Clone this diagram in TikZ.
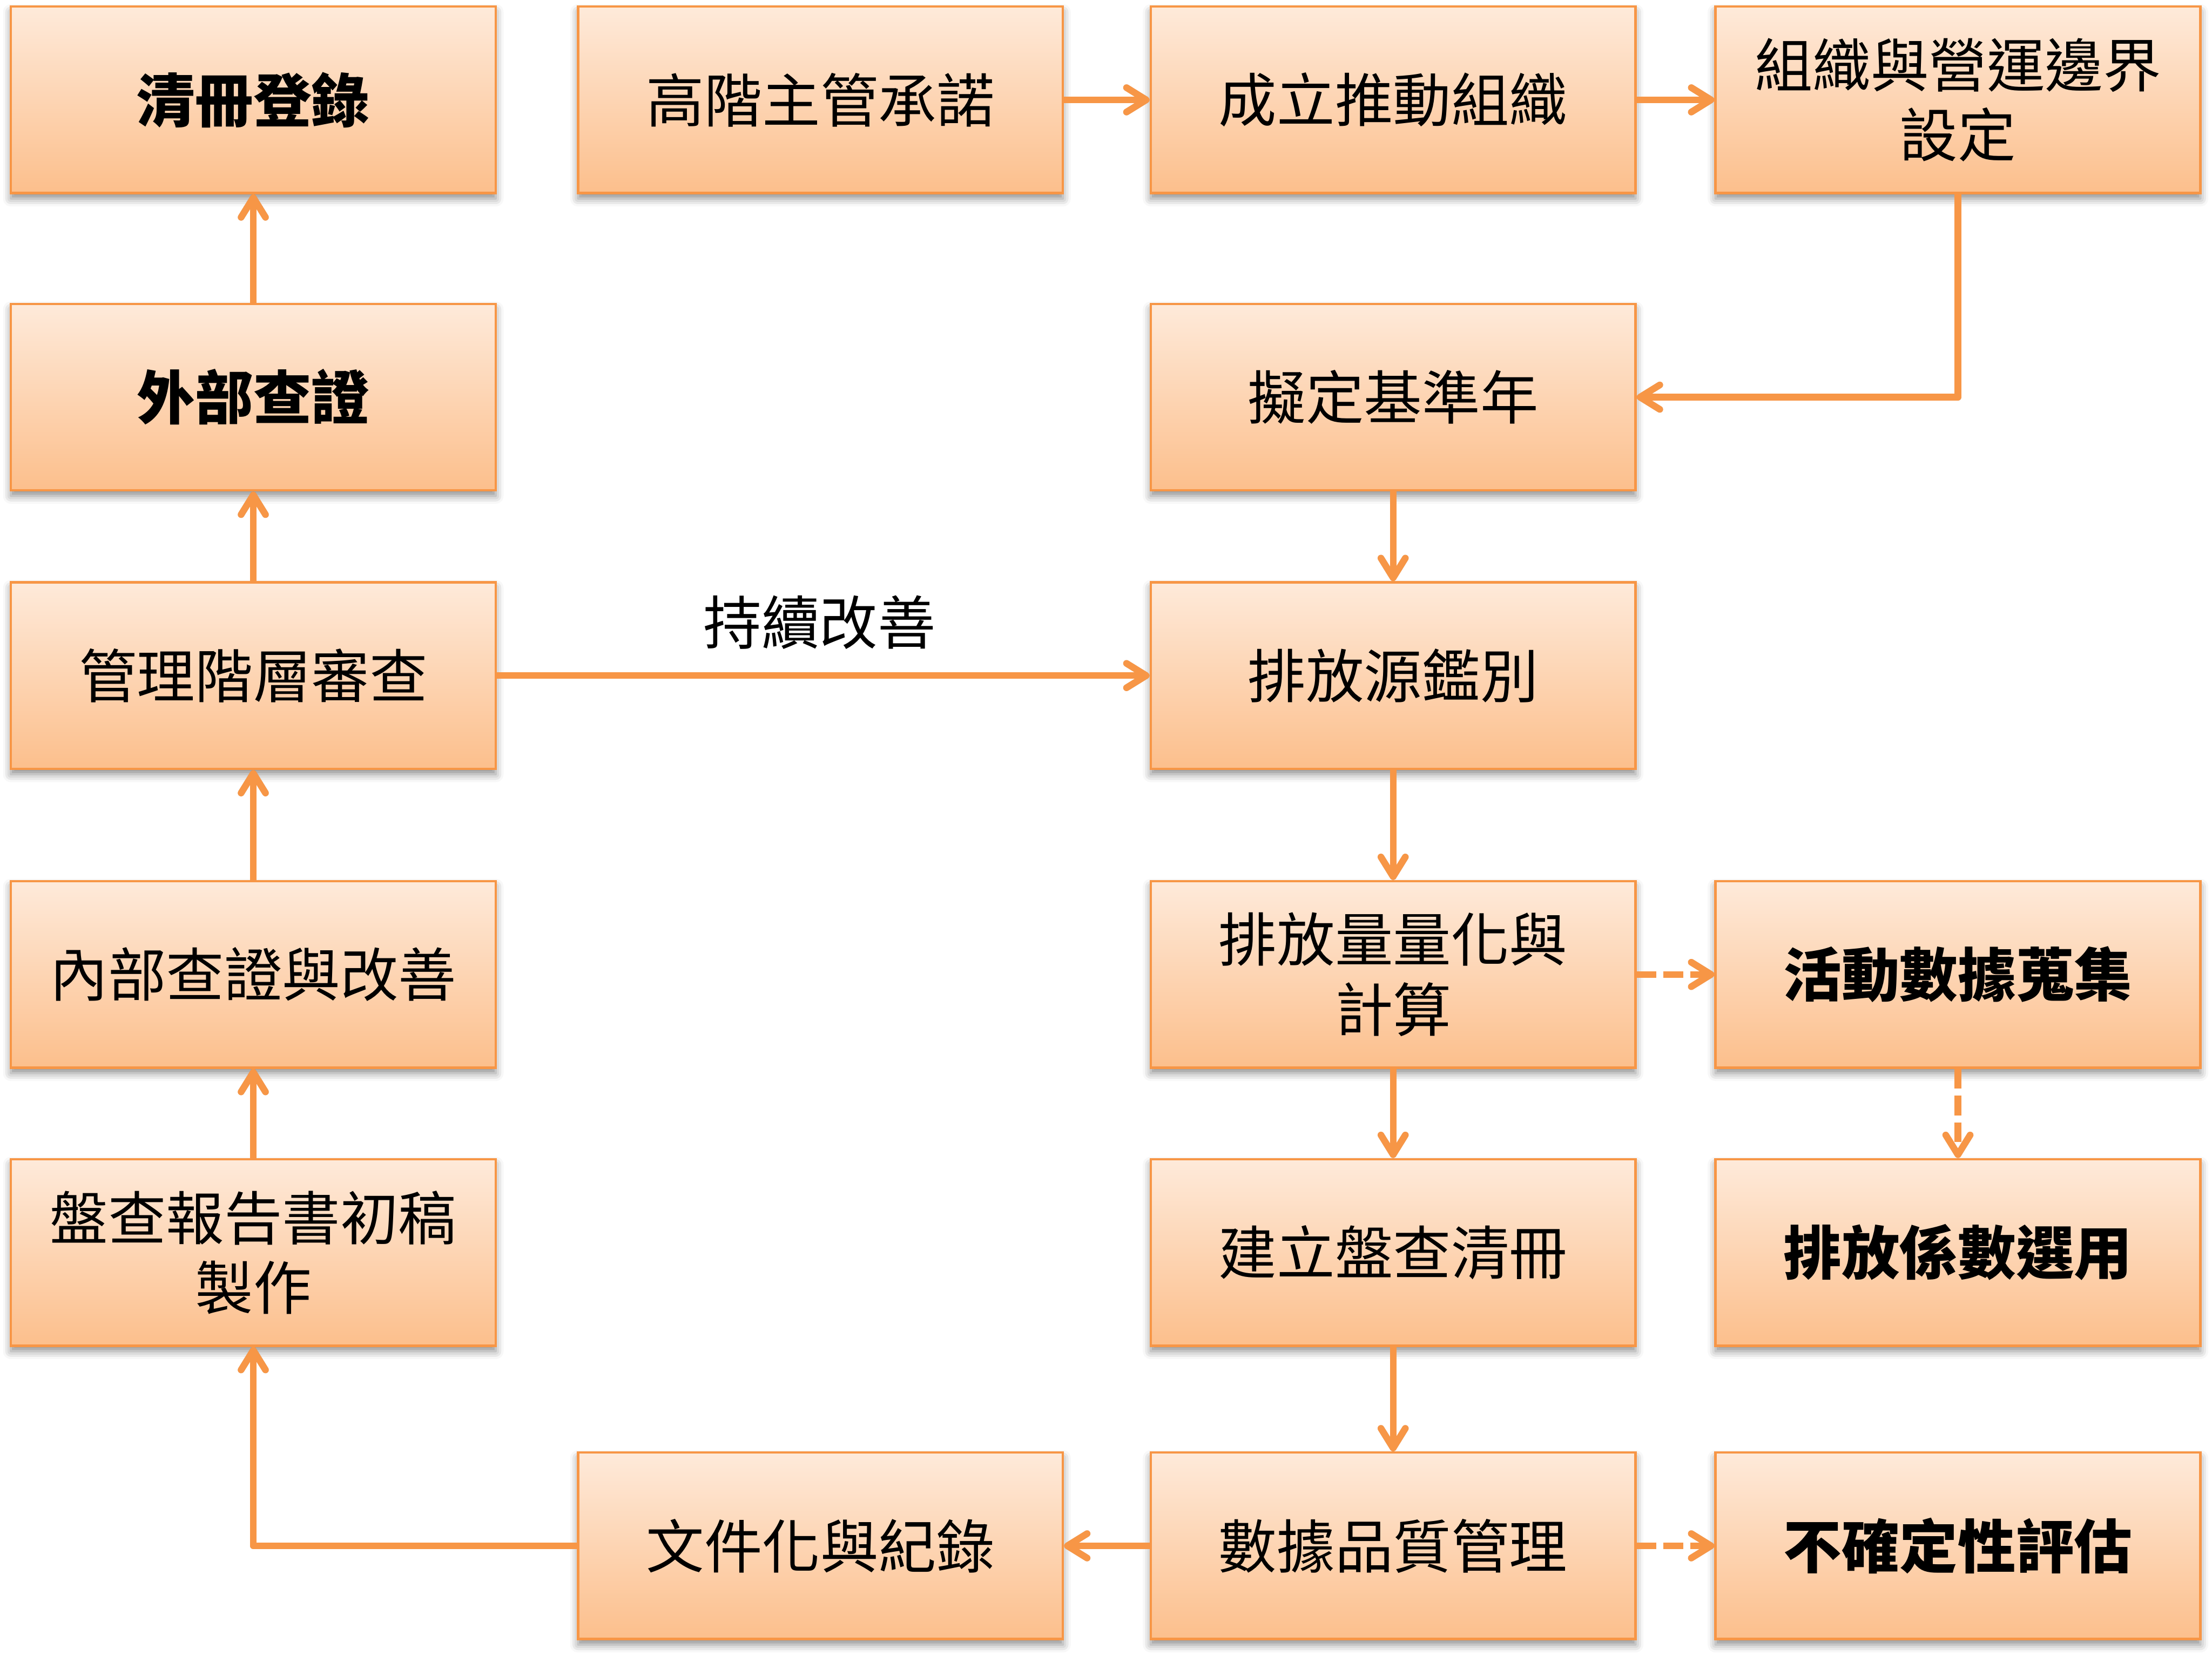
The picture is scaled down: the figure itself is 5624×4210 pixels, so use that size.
\documentclass[tikz,border=0pt]{standalone}
\usepackage{fontspec}
\setmainfont{Noto Sans CJK TC}
\usetikzlibrary{arrows.meta,shadows.blur,backgrounds}
\definecolor{org}{RGB}{247,150,70}
\definecolor{ftop}{RGB}{254,234,218}
\definecolor{fbot}{RGB}{252,191,140}
\definecolor{shd}{RGB}{214,214,214}
\tikzset{
  box/.style={draw=org, line width=0.06cm, top color=ftop, bottom color=fbot,
    minimum width=12.32cm, minimum height=4.74cm, inner sep=0pt, align=center,
    font=\fontsize{42}{50.5}\selectfont,
    blur shadow={shadow xshift=0cm, shadow yshift=-0.14cm, shadow blur radius=0.2cm, shadow opacity=45}},
  bbox/.style={box, font=\fontsize{42}{50.5}\selectfont\bfseries},
  conn/.style={draw=org, line width=0.17cm, line join=round,
    -{Straight Barb[length=0.5cm,width=0.62cm,round]}},
  dconn/.style={conn, dash pattern=on 0.5cm off 0.18cm},
  lbl/.style={font=\fontsize{42}{50.5}\selectfont, inner sep=0pt}
}
\newcommand{\allconns}{%
\draw[conn] (n12.east) -- (n13.west);
\draw[conn] (n13.east) -- (n14.west);
\draw[conn] (n14.south) |- (n23.east);
\draw[conn] (n23.south) -- (n33.north);
\draw[conn] (n33.south) -- (n43.north);
\draw[conn] (n43.south) -- (n53.north);
\draw[dconn] (n43.east) -- (n44.west);
\draw[dconn] (n44.south) -- (n54.north);
\draw[conn] (n53.south) -- (n63.north);
\draw[dconn] (n63.east) -- (n64.west);
\draw[conn] (n63.west) -- (n62.east);
\draw[conn] (n62.west) -| (n51.south);
\draw[conn] (n51.north) -- (n41.south);
\draw[conn] (n41.north) -- (n31.south);
\draw[conn] (n31.north) -- (n21.south);
\draw[conn] (n21.north) -- (n11.south);
\draw[conn] (n31.east) -- (n33.west);}
\begin{document}
\begin{tikzpicture}[x=0.01cm,y=0.01cm]
\useasboundingbox (0,0) rectangle (5624,4210);
% columns: 644, 2086, 3542, 4978 ; rows (tikz y): 3956, 3200, 2492, 1732, 1025, 279
\node[bbox] (n11) at (644,3956) {清冊登錄};
\node[box]  (n12) at (2086,3956) {高階主管承諾};
\node[box]  (n13) at (3542,3956) {成立推動組織};
\node[box]  (n14) at (4978,3956) {組織與營運邊界\\設定};
\node[bbox] (n21) at (644,3200) {外部查證};
\node[box]  (n23) at (3542,3200) {擬定基準年};
\node[box]  (n31) at (644,2492) {管理階層審查};
\node[box]  (n33) at (3542,2492) {排放源鑑別};
\node[box]  (n41) at (644,1732) {內部查證與改善};
\node[box]  (n43) at (3542,1732) {排放量量化與\\計算};
\node[bbox] (n44) at (4978,1732) {活動數據蒐集};
\node[box]  (n51) at (644,1025) {盤查報告書初稿\\製作};
\node[box]  (n53) at (3542,1025) {建立盤查清冊};
\node[bbox] (n54) at (4978,1025) {排放係數選用};
\node[box]  (n62) at (2086,279) {文件化與紀錄};
\node[box]  (n63) at (3542,279) {數據品質管理};
\node[bbox] (n64) at (4978,279) {不確定性評估};
\node[lbl]  (cl) at (2084,2627) {持續改善};

\begin{scope}[on background layer, transform canvas={yshift=-0.12cm}, conn/.append style={draw=shd}]
\allconns
\end{scope}
\allconns
\end{tikzpicture}
\end{document}
